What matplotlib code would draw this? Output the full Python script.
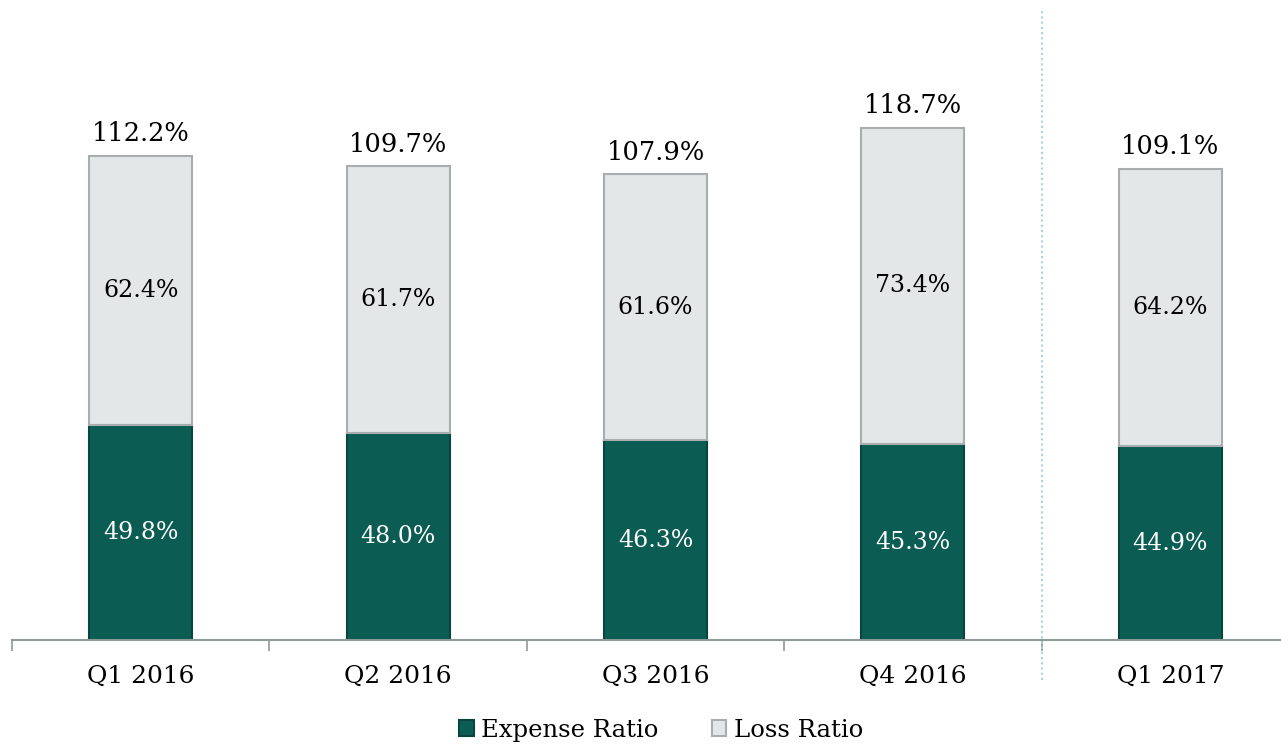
import numpy as np
import matplotlib.pyplot as plt

plt.rcParams['font.family'] = ['DejaVu Serif']

# data
quarters = ["Q1 2016", "Q2 2016", "Q3 2016", "Q4 2016", "Q1 2017"]
expense_ratio = [49.8, 48.0, 46.3, 45.3, 44.9]
loss_ratio = [62.4, 61.7, 61.6, 73.4, 64.2]
combined = [112.2, 109.7, 107.9, 118.7, 109.1]

green = "#0b5c52"
grey = "#e3e7e8"

fig = plt.figure(figsize=(12.81, 7.45), dpi=100)
ax = fig.add_axes([12 / 1281, 105 / 745, 1287 / 1281, 626 / 745])

x = np.arange(len(quarters))
w = 0.4
b1 = ax.bar(x, expense_ratio, width=w, color=green, edgecolor="#07463f", linewidth=1.5, label="Expense Ratio")
b2 = ax.bar(x, loss_ratio, width=w, bottom=expense_ratio, color=grey, edgecolor="#a9adad",
            linewidth=1.5, label="Loss Ratio")

# labels inside bars and totals on top
for i in range(len(quarters)):
    ax.text(x[i], expense_ratio[i] / 2, f"{expense_ratio[i]:.1f}%", ha='center', va='center',
            fontsize=17, color='white')
    ax.text(x[i], expense_ratio[i] + loss_ratio[i] / 2, f"{loss_ratio[i]:.1f}%", ha='center',
            va='center', fontsize=17, color='black')
    ax.text(x[i], combined[i] + 2.2, f"{combined[i]:.1f}%", ha='center', va='bottom',
            fontsize=18.5, color='black')

ax.set_xlim(-0.5, 4.5)
ax.set_ylim(0, 145)

for s in ["top", "right", "left"]:
    ax.spines[s].set_visible(False)
ax.spines["bottom"].set_color("#8c9a98")
ax.spines["bottom"].set_linewidth(1.5)
ax.set_yticks([])

ax.set_xticks(x)
ax.set_xticklabels(quarters, fontsize=18)
ax.tick_params(axis='x', which='major', length=0, pad=18)
ax.set_xticks(np.arange(-0.5, 4.5, 1.0), minor=True)
ax.tick_params(axis='x', which='minor', length=8, width=1.2, color="#8c9a98")

# dotted separator before latest quarter
ax.axvline(3.5, ymin=-40 / 626, ymax=(640 - 8) / 626, color="#a8d2e2", linestyle=(0, (1, 1.5)),
           linewidth=1.5, clip_on=False)

fig.legend(handles=[b1, b2], labels=["Expense Ratio", "Loss Ratio"], loc='lower center',
           bbox_to_anchor=(0.516, -0.025), ncol=2, frameon=False, fontsize=17.5,
           handlelength=0.6, handleheight=0.6, handletextpad=0.3, columnspacing=2.2)

fig.savefig("out.png", dpi=100)
